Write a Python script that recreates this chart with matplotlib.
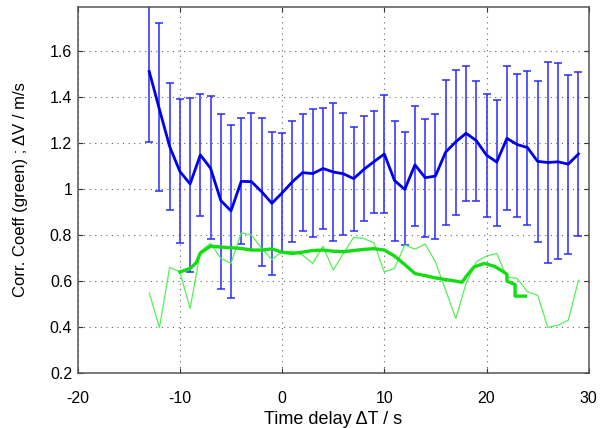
import matplotlib
matplotlib.use("Agg")
import matplotlib.pyplot as plt
import numpy as np

# ---- data ----
delay = list(range(-13, 30))
dv_mean = [1.51, 1.345, 1.184, 1.076, 1.022, 1.148, 1.09, 0.95, 0.905, 1.033,
           1.032, 0.988, 0.938, 0.983, 1.031, 1.071, 1.067, 1.089, 1.074, 1.066,
           1.045, 1.085, 1.119, 1.152, 1.037, 0.998, 1.105, 1.049, 1.056, 1.16,
           1.205, 1.242, 1.21, 1.147, 1.117, 1.22, 1.193, 1.18, 1.12, 1.115,
           1.118, 1.108, 1.152]
dv_upper = [1.82, 1.72, 1.462, 1.391, 1.397, 1.413, 1.402, 1.326, 1.278, 1.307,
            1.329, 1.307, 1.246, 1.242, 1.293, 1.326, 1.346, 1.35, 1.372, 1.332,
            1.271, 1.317, 1.34, 1.406, 1.297, 1.246, 1.362, 1.304, 1.326, 1.471,
            1.517, 1.536, 1.467, 1.413, 1.387, 1.533, 1.498, 1.513, 1.467, 1.551,
            1.547, 1.493, 1.51]
dv_lower = [1.206, 0.993, 0.909, 0.764, 0.64, 0.883, 0.783, 0.564, 0.525, 0.761,
            0.735, 0.667, 0.626, 0.728, 0.768, 0.817, 0.79, 0.826, 0.774, 0.8,
            0.817, 0.86, 0.897, 0.897, 0.774, 0.757, 0.839, 0.793, 0.783, 0.843,
            0.887, 0.948, 0.948, 0.877, 0.839, 0.909, 0.88, 0.843, 0.768, 0.677,
            0.694, 0.717, 0.797]
corr_raw = [0.549, 0.399, 0.66, 0.64, 0.481, 0.728, 0.764, 0.699, 0.677, 0.81,
            0.8, 0.742, 0.694, 0.728, 0.73, 0.713, 0.677, 0.752, 0.648, 0.72,
            0.79, 0.785, 0.765, 0.64, 0.655, 0.757, 0.739, 0.761, 0.684, 0.561,
            0.438, 0.59, 0.684, 0.709, 0.72, 0.618, 0.612, 0.554, 0.539, 0.399,
            0.409, 0.43, 0.604]
smooth_x = [-10, -9, -8.4, -8, -7, -6, -5, -4, -3, -2, -1, 0, 1, 2, 3, 4, 5, 6, 7,
            8, 9, 10, 11, 12, 13, 14, 15, 16, 17, 17.6, 18.1, 18.8, 19.8, 20.8,
            21.5, 22, 22, 22.8, 22.8, 23.8]
smooth_y = [0.64, 0.655, 0.68, 0.722, 0.752, 0.748, 0.745, 0.742, 0.735, 0.735,
            0.74, 0.726, 0.72, 0.726, 0.733, 0.735, 0.73, 0.728, 0.733, 0.738,
            0.741, 0.735, 0.709, 0.672, 0.633, 0.624, 0.614, 0.607, 0.6, 0.595,
            0.626, 0.662, 0.677, 0.664, 0.645, 0.63, 0.6, 0.585, 0.535, 0.535]
xticks = [-20, -10, 0, 10, 20, 30]
yticks = [0.2, 0.4, 0.6, 0.8, 1.0, 1.2, 1.4, 1.6]
ytick_labels = ["0.2", "0.4", "0.6", "0.8", "1", "1.2", "1.4", "1.6"]

plt.rcParams['font.family'] = ['Liberation Sans', 'DejaVu Sans']

fig = plt.figure(figsize=(6.07, 4.28), dpi=100)
ax = fig.add_axes([77.7 / 607, 1 - 373.3 / 428, (588.7 - 77.7) / 607, (373.3 - 7) / 428])

mean = np.array(dv_mean)
yerr = [mean - np.array(dv_lower), np.array(dv_upper) - mean]
ax.errorbar(delay, dv_mean, yerr=yerr, fmt='none', ecolor='#2a2aff',
            elinewidth=1.1, capsize=3.2, capthick=1.1, zorder=2)
ax.plot(delay, dv_mean, color='#0000ee', lw=2.0, zorder=3)
ax.plot(delay, corr_raw, color='#55f055', lw=0.9, zorder=4)
ax.plot(smooth_x, smooth_y, color='#11dd11', lw=2.4, zorder=5)

ax.set_xlim(-20, 30)
ax.set_ylim(0.2, 1.79)
ax.set_xticks(xticks)
ax.set_xticklabels([str(t) for t in xticks])
ax.set_yticks(yticks)
ax.set_yticklabels(ytick_labels)

ax.grid(True, color='#666666', linestyle=(0, (1, 4)), linewidth=0.8)
ax.tick_params(direction='in', length=3.5, width=0.8, top=True, right=True,
               labelsize=11.5, colors='#333333', labelcolor='black')
ax.tick_params(axis='x', pad=13)
ax.tick_params(axis='y', pad=4)
for s in ax.spines.values():
    s.set_color('#555555')
    s.set_linewidth(1.1)

fig.text((77.7 + 588.7) / 2 / 607, 1 - 424.5 / 428, 'Time delay ΔT / s',
         ha='center', va='baseline', fontsize=13)
fig.text(21 / 607, 1 - 190 / 428, 'Corr. Coeff (green) ; ΔV / m/s',
         ha='center', va='center', rotation=90, fontsize=12)

fig.savefig('out.png', dpi=100)
